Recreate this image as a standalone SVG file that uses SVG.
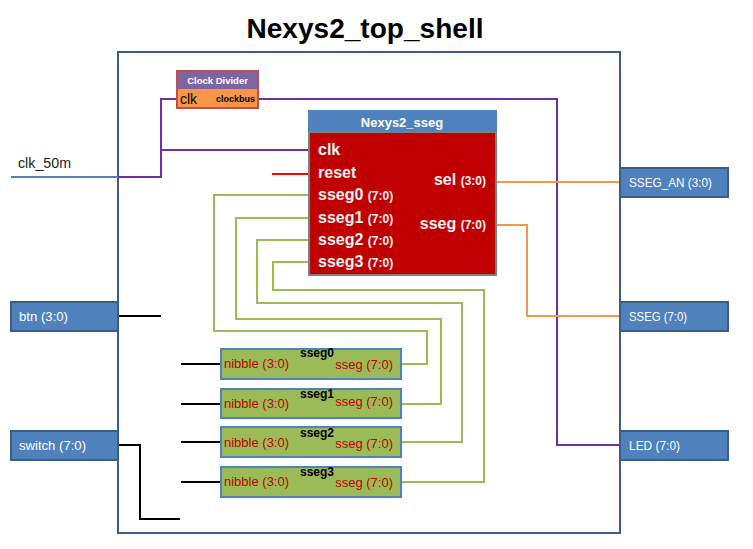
<svg xmlns="http://www.w3.org/2000/svg" width="753" height="549" viewBox="0 0 753 549">
<style>
text{font-family:"Liberation Sans",Arial,sans-serif}
.port{fill:#4f81bd;stroke:#385d8a;stroke-width:2}
.portt{fill:#ffffff;font-size:13px}
.w{fill:none;stroke-width:2}
.pur{stroke:#7030a0}
.org{stroke:#f79646}
.grn{stroke:#9bbb59}
.blk{stroke:#000000}
.red{stroke:#ff0000}
.sub{fill:#9bbb59;stroke:#4f81bd;stroke-width:2}
.nib{fill:#c00000;font-size:13px}
.inst{fill:#000000;font-size:12px;font-weight:bold}
.pin{fill:#f2f2f2;font-size:16px;font-weight:bold}
.sm{font-size:12px}
</style>
<rect width="753" height="549" fill="#ffffff"/>
<text x="365" y="38" text-anchor="middle" font-size="28" font-weight="bold" fill="#000000" textLength="237" lengthAdjust="spacingAndGlyphs">Nexys2_top_shell</text>
<g id="top_shell"><rect x="118" y="52" width="502" height="481" fill="none" stroke="#385d8a" stroke-width="2"/></g>
<g id="connectors">
<path class="w" d="M11,177 H118" stroke="#4f81bd" stroke-width="3.5"/>
<path class="w pur" d="M118,177 H161 V99 H177 M161,150 H308 M258,99 H557 V445 H620"/>
<path class="w org" d="M497,182 H620 M497,225 H527 V316 H620"/>
<path class="w red" d="M272,174 H308"/>
<path class="w grn" d="M308,195 H214 V331 H427 V364 H401"/>
<path class="w grn" d="M308,218 H236 V319 H441 V404 H401"/>
<path class="w grn" d="M308,240 H257 V303 H462 V442 H401"/>
<path class="w grn" d="M308,262 H273 V290 H484 V482 H401"/>
<path class="w blk" d="M118,316 H161 M118,445 H140 V519 H180 M181,364 H221 M181,404 H221 M181,442 H221 M181,482 H221"/>
</g>
<g id="clk_50m"><text x="18" y="168" font-size="14" fill="#1a1a1a" textLength="53" lengthAdjust="spacingAndGlyphs">clk_50m</text></g>
<g id="btn"><rect class="port" x="11" y="302" width="107" height="29"/><text class="portt" x="19" y="321" textLength="49" lengthAdjust="spacingAndGlyphs">btn (3:0)</text></g>
<g id="switch"><rect class="port" x="11" y="431" width="107" height="29"/><text class="portt" x="19" y="450" textLength="67" lengthAdjust="spacingAndGlyphs">switch (7:0)</text></g>
<g id="SSEG_AN"><rect class="port" x="620" y="168" width="108" height="29"/><text class="portt" x="629" y="187" textLength="83" lengthAdjust="spacingAndGlyphs">SSEG_AN (3:0)</text></g>
<g id="SSEG"><rect class="port" x="620" y="302" width="108" height="29"/><text class="portt" x="629" y="321" textLength="58" lengthAdjust="spacingAndGlyphs">SSEG (7:0)</text></g>
<g id="LED"><rect class="port" x="620" y="431" width="108" height="29"/><text class="portt" x="629" y="450" textLength="51" lengthAdjust="spacingAndGlyphs">LED (7:0)</text></g>
<g id="clock_divider">
<rect x="177" y="71" width="81" height="18" fill="#8064a2"/>
<rect x="177" y="89" width="81" height="19" fill="#f79646"/>
<rect x="177" y="71" width="81" height="37" fill="none" stroke="#c0504d" stroke-width="2"/>
<text x="217.5" y="84" text-anchor="middle" font-size="9.5" font-weight="bold" fill="#ffffff">Clock Divider</text>
<text x="180" y="104" font-size="14" fill="#000000">clk</text>
<text x="255" y="102" text-anchor="end" font-size="9" font-weight="bold" fill="#000000">clockbus</text>
</g>
<g id="Nexys2_sseg">
<rect x="308" y="110" width="189" height="22" fill="#4f81bd"/>
<rect x="309" y="132" width="187" height="143" fill="#c00000" stroke="#7f7f7f" stroke-width="2"/>
<text x="402" y="127" text-anchor="middle" font-size="13" font-weight="bold" fill="#ffffff">Nexys2_sseg</text>
<text class="pin" x="318" y="155">clk</text>
<text class="pin" x="318" y="178">reset</text>
<text class="pin" x="318" y="200">sseg0 <tspan class="sm">(7:0)</tspan></text>
<text class="pin" x="318" y="223">sseg1 <tspan class="sm">(7:0)</tspan></text>
<text class="pin" x="318" y="245">sseg2 <tspan class="sm">(7:0)</tspan></text>
<text class="pin" x="318" y="267">sseg3 <tspan class="sm">(7:0)</tspan></text>
<text class="pin" x="486" y="185" text-anchor="end">sel <tspan class="sm">(3:0)</tspan></text>
<text class="pin" x="486" y="229" text-anchor="end">sseg <tspan class="sm">(7:0)</tspan></text>
</g>
<g id="sseg0"><rect class="sub" x="221" y="349" width="180" height="30"/><text class="inst" x="317" y="357" text-anchor="middle">sseg0</text><text class="nib" x="224" y="368">nibble (3:0)</text><text class="nib" x="393" y="369" text-anchor="end">sseg (7:0)</text></g>
<g id="sseg1"><rect class="sub" x="221" y="389" width="180" height="29"/><text class="inst" x="317" y="398" text-anchor="middle">sseg1</text><text class="nib" x="224" y="408">nibble (3:0)</text><text class="nib" x="393" y="406" text-anchor="end">sseg (7:0)</text></g>
<g id="sseg2"><rect class="sub" x="221" y="427" width="180" height="30"/><text class="inst" x="317" y="437" text-anchor="middle">sseg2</text><text class="nib" x="224" y="447">nibble (3:0)</text><text class="nib" x="393" y="448" text-anchor="end">sseg (7:0)</text></g>
<g id="sseg3"><rect class="sub" x="221" y="467" width="180" height="30"/><text class="inst" x="317" y="476" text-anchor="middle">sseg3</text><text class="nib" x="224" y="486">nibble (3:0)</text><text class="nib" x="393" y="487" text-anchor="end">sseg (7:0)</text></g>
</svg>
